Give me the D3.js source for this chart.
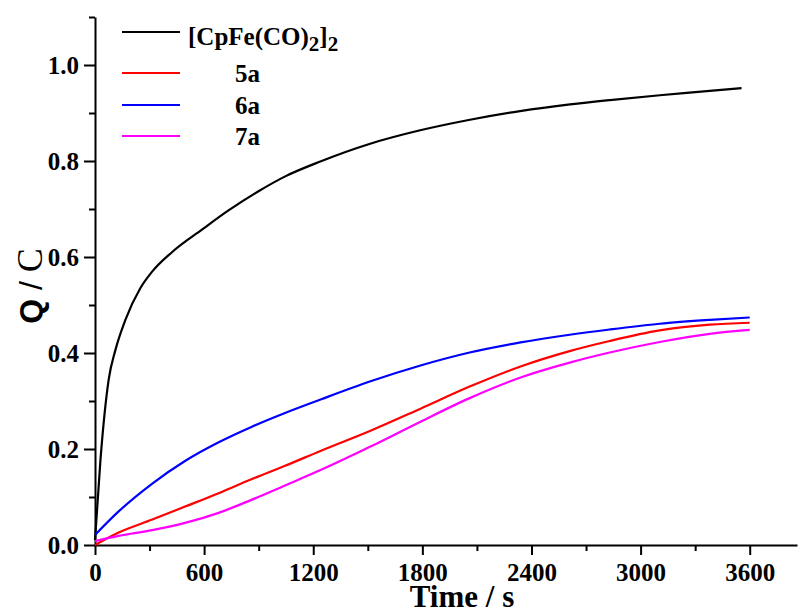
<!DOCTYPE html>
<html>
<head>
<meta charset="utf-8">
<script src="https://cdn.jsdelivr.net/npm/d3@7/dist/d3.min.js"></script>
<style>
  body { margin: 0; background: #ffffff; }
  svg { display: block; }
  .axis text { font-family: 'Liberation Serif', 'Times New Roman', serif; font-weight: bold; }
</style>
</head>
<body>
<div id="chart"></div>
<script>
// ----------------------------------------------------------------------------------------------------
// DATA
// ----------------------------------------------------------------------------------------------------

// black curve, [CpFe(CO)2]2
var timeBlack = [0, 30, 75, 112, 166, 249, 313, 423, 588, 734, 899, 1046, 1239, 1513, 1788, 2062, 2337, 2612, 2831, 3106, 3380, 3555];
var qBlack = [0.01, 0.177, 0.344, 0.406, 0.468, 0.535, 0.569, 0.61, 0.657, 0.697, 0.737, 0.768, 0.799, 0.836, 0.864, 0.886, 0.904, 0.918, 0.927, 0.937, 0.946, 0.952];

// 5a, 6a, 7a share the same time points
var timeColored = [0, 130, 315, 495, 680, 860, 1045, 1240, 1515, 1790, 2060, 2340, 2610, 2830, 3105, 3380, 3600];
var q5a = [0.0, 0.026, 0.053, 0.08, 0.108, 0.137, 0.165, 0.196, 0.238, 0.284, 0.33, 0.372, 0.404, 0.425, 0.447, 0.459, 0.463];
var q6a = [0.021, 0.07, 0.128, 0.175, 0.214, 0.246, 0.275, 0.303, 0.341, 0.374, 0.401, 0.422, 0.438, 0.449, 0.461, 0.469, 0.474];
var q7a = [0.008, 0.019, 0.031, 0.046, 0.067, 0.094, 0.124, 0.156, 0.205, 0.257, 0.306, 0.349, 0.38, 0.401, 0.423, 0.44, 0.448];

var seriesNames = ["[CpFe(CO)2]2", "5a", "6a", "7a"];
var seriesColors = ["#000000", "#ff0000", "#0000ff", "#ff00ff"];

var xMajorTicks = [0, 600, 1200, 1800, 2400, 3000, 3600];
var xMinorTicks = [300, 900, 1500, 2100, 2700, 3300];
var yMajorTicks = [0.0, 0.2, 0.4, 0.6, 0.8, 1.0];
var yMinorTicks = [0.1, 0.3, 0.5, 0.7, 0.9, 1.1];

// ----------------------------------------------------------------------------------------------------
// DRAW
// ----------------------------------------------------------------------------------------------------

function chartCharge_Draw(ele) {
    ele = "#" + ele;

    var w = 798;
    var h = 612;
    var serif = "'Liberation Serif', 'Times New Roman', serif";
    var sans = "'Liberation Sans', Arial, sans-serif";

    var svg = d3.select(ele)
        .append("svg")
        .attr("width", w)
        .attr("height", h);

    var x = d3.scaleLinear().domain([0, 3860]).range([95, 797]);
    var y = d3.scaleLinear().domain([0, 1.1]).range([545, 17]);

    // Axes
    svg.append("g")
        .attr("class", "axis")
        .attr("transform", "translate(0," + y(0) + ")")
        .call(d3.axisBottom(x).tickValues(xMajorTicks).tickSizeInner(10).tickSizeOuter(0).tickPadding(8).tickFormat(d3.format("d")));
    svg.append("g")
        .attr("transform", "translate(0," + y(0) + ")")
        .call(d3.axisBottom(x).tickValues(xMinorTicks).tickSize(6).tickFormat(""))
        .select(".domain").remove();

    svg.append("g")
        .attr("class", "axis")
        .attr("transform", "translate(" + x(0) + ",0)")
        .call(d3.axisLeft(y).tickValues(yMajorTicks).tickSizeInner(11).tickSizeOuter(0).tickPadding(5).tickFormat(d3.format(".1f")));
    svg.append("g")
        .attr("transform", "translate(" + x(0) + ",0)")
        .call(d3.axisLeft(y).tickValues(yMinorTicks).tickSize(6).tickFormat(""))
        .select(".domain").remove();

    svg.selectAll(".domain, .tick line")
        .attr("stroke", "#000")
        .attr("stroke-width", 2);

    svg.selectAll(".axis")
        .attr("font-family", serif)
        .attr("font-size", 25);

    svg.selectAll(".axis .tick text")
        .attr("font-family", serif)
        .attr("font-weight", "bold")
        .style("font-size", "25px")
        .attr("fill", "#000");

    // Axis titles
    svg.append("text")
        .attr("x", 462)
        .attr("y", 607)
        .attr("text-anchor", "middle")
        .style("font-family", serif)
        .style("font-weight", "bold")
        .style("font-size", "31px")
        .text("Time / s");

    var yTitle = svg.append("text")
        .attr("transform", "translate(42,286) rotate(-90)")
        .attr("text-anchor", "middle")
        .style("font-family", sans)
        .style("font-size", "32px")
        .attr("fill", "#000");
    yTitle.append("tspan").style("font-weight", "bold").text("Q");
    yTitle.append("tspan").text(" / ");
    yTitle.append("tspan").style("font-family", serif).style("font-size", "36px").text("C");

    // Curves
    var line = d3.line()
        .x(function(d) { return x(d[0]); })
        .y(function(d) { return y(d[1]); })
        .curve(d3.curveMonotoneX);

    var curves = [
        d3.zip(timeBlack, qBlack),
        d3.zip(timeColored, q5a),
        d3.zip(timeColored, q6a),
        d3.zip(timeColored, q7a)
    ];

    svg.selectAll(".curve")
        .data(curves)
        .enter()
        .append("path")
        .attr("class", "curve")
        .attr("fill", "none")
        .attr("stroke", function(d, i) { return seriesColors[i]; })
        .attr("stroke-width", 2.2)
        .attr("d", line);

    // Legend
    var legendY = [32, 73, 105, 136];
    svg.selectAll(".legend-line")
        .data(seriesNames)
        .enter()
        .append("line")
        .attr("class", "legend-line")
        .attr("x1", 122)
        .attr("x2", 180)
        .attr("y1", function(d, i) { return legendY[i]; })
        .attr("y2", function(d, i) { return legendY[i]; })
        .attr("stroke", function(d, i) { return seriesColors[i]; })
        .attr("stroke-width", 2.2);

    var t0 = svg.append("text")
        .attr("x", 188)
        .attr("y", 45)
        .style("font-family", serif)
        .style("font-weight", "bold")
        .style("font-size", "25px");
    t0.append("tspan").text("[CpFe(CO)");
    t0.append("tspan").style("font-size", "21px").attr("dy", 6).text("2");
    t0.append("tspan").attr("dy", -6).text("]");
    t0.append("tspan").style("font-size", "21px").attr("dy", 6).text("2");

    svg.selectAll(".legend-label")
        .data(seriesNames.slice(1))
        .enter()
        .append("text")
        .attr("class", "legend-label")
        .attr("x", 235)
        .attr("y", function(d, i) { return legendY[i + 1] + 9; })
        .style("font-family", serif)
        .style("font-weight", "bold")
        .style("font-size", "25px")
        .text(function(d) { return d; });
}

chartCharge_Draw("chart");
</script>
</body>
</html>
